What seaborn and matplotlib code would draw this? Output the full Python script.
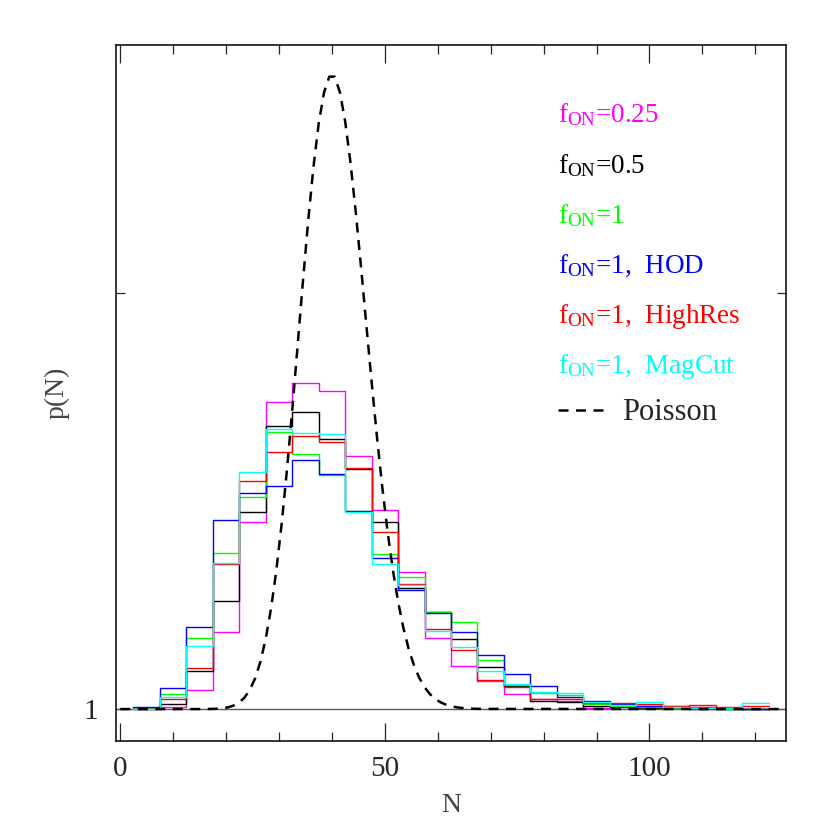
import matplotlib
matplotlib.use("Agg")
import numpy as np
import seaborn as sns
from matplotlib import pyplot as plt
from matplotlib.ticker import MultipleLocator

# bins of width 5 centred on 5, 10, ..., 120
bin_centers = list(range(5, 125, 5))
bin_edges = [c - 2.5 for c in bin_centers] + [122.5]

p_025 = [0.00005, 0.0002, 0.00192, 0.00763, 0.01864, 0.03052, 0.03241, 0.03162,
         0.02515, 0.01977, 0.01366, 0.00707, 0.00428, 0.00284, 0.00149, 0.00100,
         0.00080, 0.00010, 0.00035, 0.00030, 0.00033, 0.00020, 0.00015, 0.00005]
p_05 = [0.00015, 0.00050, 0.00381, 0.01072, 0.01964, 0.02819, 0.02953, 0.02690,
        0.02385, 0.01861, 0.01209, 0.00968, 0.00697, 0.00423, 0.00232, 0.00080,
        0.00070, 0.00033, 0.00023, 0.00015, 0.00010, 0.00005, 0.00005, 0.00003]
p_1 = [0.00010, 0.00149, 0.00710, 0.01550, 0.02107, 0.02754, 0.02541, 0.02326,
       0.01971, 0.01543, 0.01317, 0.00970, 0.00866, 0.00488, 0.00244, 0.00159,
       0.00139, 0.00050, 0.00030, 0.00020, 0.00015, 0.00010, 0.00005, 0.00003]
p_hod = [0.00020, 0.00206, 0.00821, 0.01881, 0.02153, 0.02216, 0.02481, 0.02336,
         0.01968, 0.01506, 0.01184, 0.00952, 0.00771, 0.00537, 0.00345, 0.00234,
         0.00124, 0.00083, 0.00047, 0.00035, 0.00025, 0.00010, 0.00008, 0.00003]
p_highres = [0.00005, 0.00097, 0.00405, 0.01448, 0.02274, 0.02561, 0.02714, 0.02657,
             0.02396, 0.01759, 0.01249, 0.00793, 0.00590, 0.00289, 0.00219, 0.00100,
             0.00100, 0.00060, 0.00065, 0.00052, 0.00033, 0.00037, 0.00023, 0.00027]
p_magcut = [0.00005, 0.00122, 0.00624, 0.01456, 0.02357, 0.02787, 0.02744, 0.02737,
            0.01966, 0.01443, 0.01231, 0.00779, 0.00614, 0.00375, 0.00252, 0.00169,
            0.00164, 0.00073, 0.00040, 0.00075, 0.00020, 0.00010, 0.00010, 0.00057]

series = [p_025, p_05, p_1, p_hod, p_highres, p_magcut]
labels = [r"$\mathregular{f_{ON}}$=0.25", r"$\mathregular{f_{ON}}$=0.5",
          r"$\mathregular{f_{ON}}$=1", r"$\mathregular{f_{ON}}$=1,  HOD",
          r"$\mathregular{f_{ON}}$=1,  HighRes", r"$\mathregular{f_{ON}}$=1,  MagCut"]
colors = ["#ff00ff", "#000000", "#00ff00", "#0000ff", "#ff0000", "#00ffff"]

# Poisson curve
poisson_n = [0, 14.5, 15.5, 16.5, 17.5, 18.5, 19.5, 20.5, 21.5, 22.5, 23.5, 24.5,
             25.5, 26.5, 27.5, 28.5, 29.5, 30.5, 31.5, 32.5, 33.5, 34.5, 35.5, 36.5,
             37.5, 38.5, 39.5, 40.5, 41.5, 42.5, 43.5, 44.5, 45.5, 46.5, 47.5, 48.5,
             49.5, 50.5, 51.5, 52.5, 53.5, 54.5, 55.5, 56.5, 57.5, 58.5, 59.5, 60.5,
             61.5, 62.5, 63.5, 64.5, 65.5, 66.5, 67.5, 68.5, 126]
poisson_p = [0, 0.0000013, 0.0000035, 0.0000087, 0.0000205, 0.0000456, 0.000096,
             0.000192, 0.000366, 0.000665, 0.00116, 0.00193, 0.00308, 0.00474,
             0.00703, 0.01004, 0.01385, 0.01847, 0.02383, 0.02978, 0.03610, 0.04247,
             0.04854, 0.05393, 0.05830, 0.06137, 0.06295, 0.06295, 0.06141, 0.05849,
             0.05441, 0.04946, 0.04397, 0.03823, 0.03254, 0.02712, 0.02214, 0.01771,
             0.01389, 0.01069, 0.00807, 0.00598, 0.00435, 0.00311, 0.00218, 0.00150,
             0.00102, 0.00068, 0.000446, 0.000288, 0.000183, 0.000114, 0.000070,
             0.000042, 0.000025, 0.000015, 0]

sns.set_style("ticks")
plt.rcParams["font.family"] = ["Liberation Serif", "DejaVu Serif"]
plt.rcParams["mathtext.fontset"] = "custom"
plt.rcParams["mathtext.rm"] = "Liberation Serif"

fig, ax = plt.subplots(figsize=(8.3, 8.3), dpi=100)
fig.subplots_adjust(left=0.1398, right=0.947, bottom=0.1072, top=0.9458)

ax.axhline(0, color="0.35", lw=1.0, zorder=1)

for vals, col in zip(series, colors):
    sns.histplot(x=bin_centers, weights=vals, bins=bin_edges, element="step",
                 fill=False, color=col, linewidth=1.0, ax=ax)

sns.lineplot(x=poisson_n, y=poisson_p, color="black", lw=1.8,
             linestyle=(0, (4, 3)), ax=ax, legend=False)
poisson_line = ax.lines[-1]

ax.set_xlim(-0.8, 125.8)
ax.set_ylim(-0.00318, 0.0661)

ax.xaxis.set_major_locator(MultipleLocator(50))
ax.xaxis.set_minor_locator(MultipleLocator(10))
ax.set_yticks([0, 0.0414], labels=["1", ""])

ax.tick_params(axis="x", which="major", direction="in", top=True, length=13,
               width=0.9, labelsize=21, pad=11)
ax.tick_params(axis="x", which="minor", direction="in", top=True, length=6.5,
               width=0.9)
ax.tick_params(axis="y", which="major", direction="in", right=True, length=6.5,
               width=0.9, labelsize=21, pad=13)
for sp in ax.spines.values():
    sp.set_linewidth(1.1)
    sp.set_color("black")

ax.set_xlabel("N", fontsize=20, color="#444444", labelpad=8)
ax.set_ylabel("p(N)", fontsize=20, color="#444444", labelpad=10)

# colored labels
label_y = [0.8894, 0.8161, 0.7443, 0.6724, 0.6006, 0.5287]
for lab, col, yy in zip(labels, colors, label_y):
    ax.text(0.6597, yy, lab, color=col, fontsize=19.5, transform=ax.transAxes,
            ha="left", va="baseline")

ax.legend([poisson_line], ["Poisson"], loc="center left",
          bbox_to_anchor=(0.6597, 0.4713), frameon=False, fontsize=22,
          handlelength=1.67, handletextpad=0.42, borderpad=0, borderaxespad=0)

fig.savefig("out.png", dpi=100)
